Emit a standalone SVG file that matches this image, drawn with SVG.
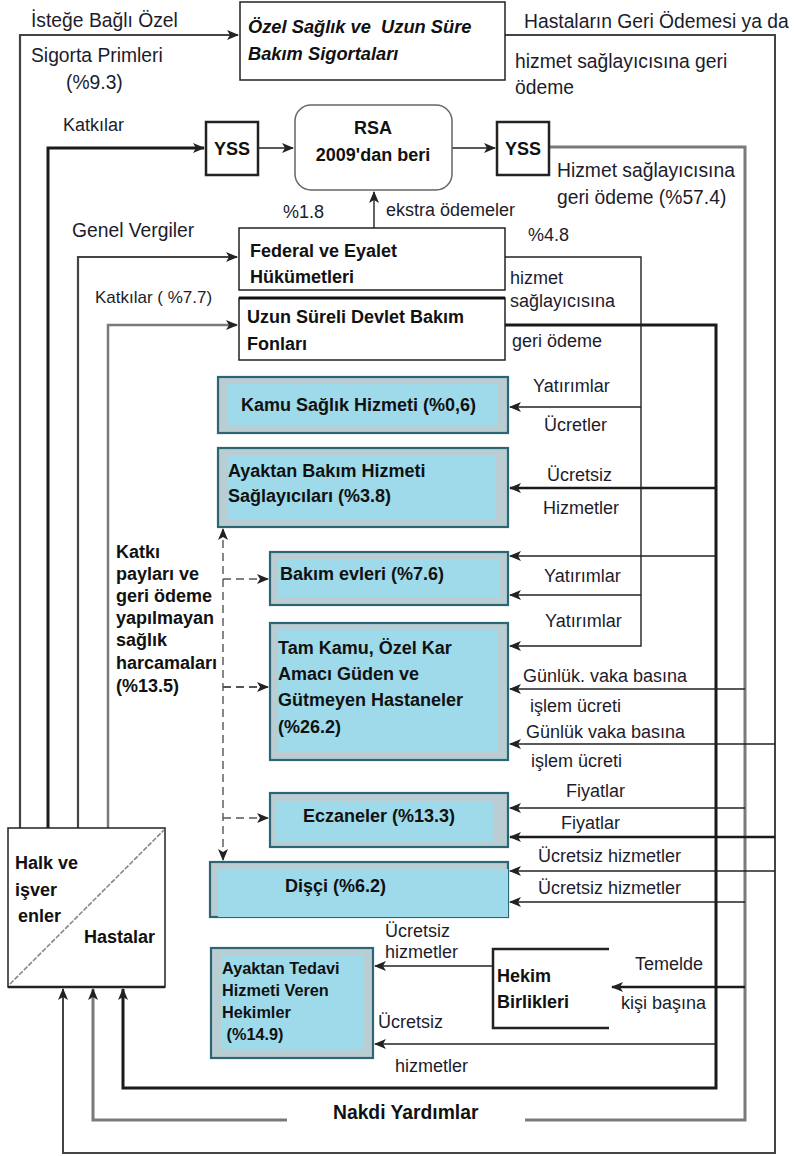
<svg xmlns="http://www.w3.org/2000/svg" width="795" height="1156" viewBox="0 0 795 1156">
<defs>
<marker id="ah" markerUnits="userSpaceOnUse" markerWidth="12" markerHeight="10" refX="11" refY="5" orient="auto">
<path d="M0,0 L12,5 L0,10 L3,5 Z" fill="#222"/>
</marker>
<marker id="ahs" markerUnits="userSpaceOnUse" markerWidth="12" markerHeight="10" refX="1" refY="5" orient="auto">
<path d="M12,0 L0,5 L12,10 L9,5 Z" fill="#222"/>
</marker>
</defs>
<style>
text{font-family:"Liberation Sans",Arial,sans-serif;fill:#1c1c2c;font-size:18px}
.b{font-weight:bold;fill:#111;font-size:18px}
.bi{font-weight:bold;font-style:italic;fill:#111;font-size:18.3px}
.t{font-size:19.3px}
.s{font-size:17px}
.box{fill:#fff;stroke:#222;stroke-width:1.5}
.bo{fill:#b9cdd3;stroke:#2b6675;stroke-width:2.2}
.bi2{fill:#9fdaea}
.ln{fill:none;stroke:#222;stroke-width:1.4}
.thk{fill:none;stroke:#1a1a1a;stroke-width:3}
.gr{fill:none;stroke:#7a7a7a;stroke-width:3}
.dg{fill:none;stroke:#444;stroke-width:2.2}
.ds{fill:none;stroke:#555;stroke-width:1.4;stroke-dasharray:8 5}
</style>
<rect width="795" height="1156" fill="#fff"/>

<g id="connectors">
<path class="dg" d="M20,828 V35 H238" marker-end="url(#ah)"/>
<path class="thk" d="M48,828 V148 H204" marker-end="url(#ah)"/>
<path class="ln" d="M258,148 H293" marker-end="url(#ah)"/>
<path class="ln" d="M452,148 H495" marker-end="url(#ah)"/>
<path class="dg" d="M78,828 V257 H237" marker-end="url(#ah)"/>
<path class="gr" style="stroke-width:2.5" d="M108,828 V325 H237" marker-end="url(#ah)"/>
<path class="ln" d="M374,228 V192" marker-end="url(#ah)"/>
<path class="dg" style="stroke-width:2" d="M505,35 H775 V1153 H63 V989" marker-end="url(#ah)"/>
<path class="gr" d="M549,147 H745 V1120 H525"/>
<path class="gr" d="M287,1120 H93 V989" marker-end="url(#ah)"/>
<path class="thk" d="M505,325 H716 V1088 H123 V989" marker-end="url(#ah)"/>
<path class="ln" d="M505,257 H641 V646 H510" marker-end="url(#ah)"/>
<path class="ln" d="M641,407 H510" marker-end="url(#ah)"/>
<path class="ln" d="M641,595 H510" marker-end="url(#ah)"/>
<path class="thk" style="stroke-width:2.5" d="M716,488 H510" marker-end="url(#ah)"/>
<path class="ln" d="M716,556 H510" marker-end="url(#ah)"/>
<path class="ln" d="M745,689 H510" marker-end="url(#ah)"/>
<path class="ln" d="M775,744 H510" marker-end="url(#ah)"/>
<path class="ln" d="M745,808 H510" marker-end="url(#ah)"/>
<path class="thk" style="stroke-width:2.5" d="M775,837 H510" marker-end="url(#ah)"/>
<path class="ln" d="M775,871 H510" marker-end="url(#ah)"/>
<path class="ln" d="M745,902 H510" marker-end="url(#ah)"/>
<path class="thk" style="stroke-width:2.5" d="M745,987 H612" marker-end="url(#ah)"/>
<path class="ln" d="M493,966 H375" marker-end="url(#ah)"/>
<path class="ln" d="M716,1044 H375" marker-end="url(#ah)"/>
<path class="ds" d="M223,860 V529" marker-start="url(#ahs)" marker-end="url(#ah)"/>
<path class="ds" d="M223,579 H268" marker-end="url(#ah)"/>
<path class="ds" style="stroke-width:2.2" d="M223,687 H268" marker-end="url(#ah)"/>
<path class="ds" d="M223,818 H268" marker-end="url(#ah)"/>
</g>

<g id="ozel">
<rect class="box" x="240" y="2" width="265" height="78"/>
<text class="bi" x="248" y="33" xml:space="preserve">Özel Sağlık ve  Uzun Süre</text>
<text class="bi" x="248" y="60">Bakım Sigortaları</text>
</g>
<g id="yss1">
<rect class="box" x="206" y="122" width="52" height="53" style="stroke-width:2.5"/>
<text class="b" x="232" y="155" text-anchor="middle">YSS</text>
</g>
<g id="rsa">
<rect x="295" y="105" width="157" height="85" rx="16" fill="#fff" stroke="#666" stroke-width="1.5"/>
<text class="b" x="373" y="134" text-anchor="middle">RSA</text>
<text class="b" x="373" y="161" text-anchor="middle">2009'dan beri</text>
</g>
<g id="yss2">
<rect class="box" x="497" y="122" width="52" height="53" style="stroke-width:2.5"/>
<text class="b" x="523" y="155" text-anchor="middle">YSS</text>
</g>
<g id="federal">
<rect class="box" x="239" y="228" width="266" height="62"/>
<text class="b" x="250" y="257">Federal ve Eyalet</text>
<text class="b" x="250" y="283">Hükümetleri</text>
</g>
<g id="uzun">
<rect class="box" x="239" y="298" width="266" height="62"/>
<path d="M239,298 H505" stroke="#111" stroke-width="3"/>
<text class="b" x="247" y="323">Uzun Süreli Devlet Bakım</text>
<text class="b" x="247" y="350">Fonları</text>
</g>
<g id="kamu">
<rect class="bo" x="218" y="377" width="290" height="56"/>
<rect class="bi2" x="228" y="384" width="270" height="42"/>
<text class="b" x="241" y="411">Kamu Sağlık Hizmeti (%0,6)</text>
</g>
<g id="ayaktanbakim">
<rect class="bo" x="218" y="448" width="290" height="79"/>
<rect class="bi2" x="228" y="455" width="268" height="65"/>
<text class="b" x="228" y="477">Ayaktan Bakım Hizmeti</text>
<text class="b" x="228" y="502">Sağlayıcıları (%3.8)</text>
</g>
<g id="bakimevleri">
<rect class="bo" x="270" y="552" width="238" height="53"/>
<rect class="bi2" x="278" y="559" width="222" height="39"/>
<text class="b" x="280" y="580">Bakım evleri (%7.6)</text>
</g>
<g id="hastaneler">
<rect class="bo" x="270" y="623" width="238" height="137"/>
<rect class="bi2" x="278" y="630" width="220" height="122"/>
<text class="b" x="278" y="654">Tam Kamu, Özel Kar</text>
<text class="b" x="278" y="680">Amacı Güden ve</text>
<text class="b" x="278" y="706">Gütmeyen Hastaneler</text>
<text class="b" x="278" y="733">(%26.2)</text>
</g>
<g id="eczaneler">
<rect class="bo" x="270" y="793" width="238" height="54"/>
<rect class="bi2" x="276" y="801" width="217" height="40"/>
<text class="b" x="303" y="822">Eczaneler (%13.3)</text>
</g>
<g id="disci">
<rect class="bo" x="210" y="862" width="298" height="55"/>
<rect class="bi2" x="218" y="869" width="290" height="48"/>
<text class="b" x="285" y="892">Dişçi (%6.2)</text>
</g>
<g id="hekimler">
<rect class="bo" x="211" y="948" width="162" height="110"/>
<rect class="bi2" x="221" y="955" width="142" height="95"/>
<text class="b" x="222" y="974" style="font-size:16.3px">Ayaktan Tedavi</text>
<text class="b" x="222" y="996" style="font-size:16.3px">Hizmeti Veren</text>
<text class="b" x="222" y="1018" style="font-size:16.3px">Hekimler</text>
<text class="b" x="222" y="1040" style="font-size:16.3px" xml:space="preserve"> (%14.9)</text>
</g>
<g id="hekimbirlikleri">
<path d="M609,949 H493 V1028 H609" fill="#fff" stroke="#222" stroke-width="2.5"/>
<text class="b" x="497" y="982">Hekim</text>
<text class="b" x="497" y="1008">Birlikleri</text>
</g>
<g id="halk">
<rect x="8" y="828" width="157" height="159" fill="#fff" stroke="#222" stroke-width="1.5"/>
<path d="M8,987 H165" stroke="#222" stroke-width="2.5"/>
<path d="M10,984 L164,830" stroke="#888" stroke-width="1.6" stroke-dasharray="5 1.5"/>
<text class="b" x="15" y="869">Halk ve</text>
<text class="b" x="15" y="896">işver</text>
<text class="b" x="18" y="922">enler</text>
<text class="b" x="84" y="943">Hastalar</text>
</g>

<g id="labels">
<text class="t" x="31" y="27">İsteğe Bağlı Özel</text>
<text class="t" x="31" y="62">Sigorta Primleri</text>
<text class="t" x="66" y="89">(%9.3)</text>
<text class="t" x="524" y="28">Hastaların Geri Ödemesi ya da</text>
<text class="t" x="515" y="68">hizmet sağlayıcısına geri</text>
<text class="t" x="515" y="94">ödeme</text>
<text x="63" y="131">Katkılar</text>
<text class="t" x="557" y="177">Hizmet sağlayıcısına</text>
<text class="t" x="557" y="204">geri ödeme (%57.4)</text>
<text x="283" y="218">%1.8</text>
<text x="386" y="216">ekstra ödemeler</text>
<text class="t" x="72" y="237">Genel Vergiler</text>
<text x="528" y="241">%4.8</text>
<text class="s" x="95" y="303">Katkılar ( %7.7)</text>
<text x="510" y="284">hizmet</text>
<text x="510" y="307">sağlayıcısına</text>
<text x="512" y="347">geri ödeme</text>
<text x="533" y="392">Yatırımlar</text>
<text x="544" y="431">Ücretler</text>
<text x="547" y="481">Ücretsiz</text>
<text x="543" y="514">Hizmetler</text>
<text x="544" y="582">Yatırımlar</text>
<text x="545" y="627">Yatırımlar</text>
<text x="523" y="682">Günlük. vaka basına</text>
<text x="530" y="712">işlem ücreti</text>
<text x="526" y="738">Günlük vaka basına</text>
<text x="531" y="767">işlem ücreti</text>
<text x="566" y="797">Fiyatlar</text>
<text x="561" y="829">Fiyatlar</text>
<text x="538" y="862">Ücretsiz hizmetler</text>
<text x="538" y="894">Ücretsiz hizmetler</text>
<text class="b" x="116" y="558">Katkı</text>
<text class="b" x="116" y="580">payları ve</text>
<text class="b" x="116" y="602">geri ödeme</text>
<text class="b" x="116" y="624">yapılmayan</text>
<text class="b" x="116" y="646">sağlık</text>
<text class="b" x="116" y="669">harcamaları</text>
<text class="b" x="116" y="692">(%13.5)</text>
<text x="385" y="937">Ücretsiz</text>
<text x="385" y="958">hizmetler</text>
<text x="635" y="970">Temelde</text>
<text x="621" y="1009">kişi başına</text>
<text x="378" y="1028">Ücretsiz</text>
<text x="395" y="1072">hizmetler</text>
<text class="b t" x="333" y="1119">Nakdi Yardımlar</text>
</g>
</svg>
